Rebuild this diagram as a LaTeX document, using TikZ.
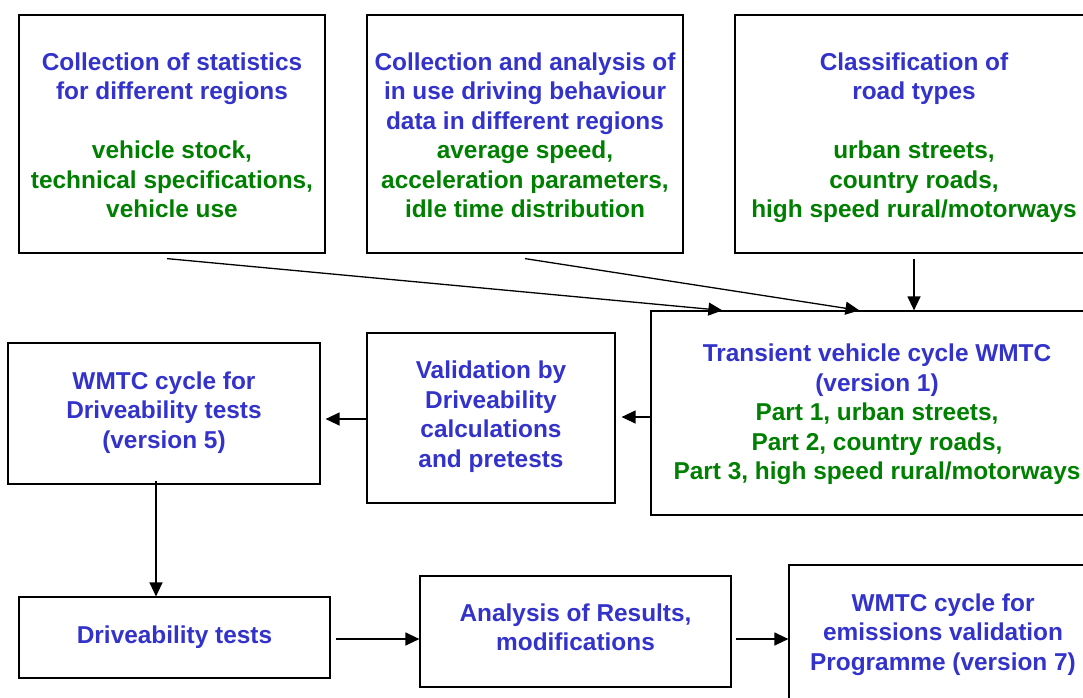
\documentclass[tikz,border=0pt]{standalone}
\usepackage{fontspec}
\setmainfont{Liberation Sans}
\usetikzlibrary{arrows.meta,calc}
\definecolor{tblue}{RGB}{51,51,204}
\definecolor{tgreen}{RGB}{0,128,0}
\newcommand{\tp}[1]{\rule{0pt}{#1pt}}
\newcommand{\bt}{\rule[-9pt]{0pt}{0pt}}
\begin{document}
\begin{tikzpicture}[x=1pt,y=-1pt,
  box/.style={draw=black,line width=1.2pt,fill=white,inner sep=0pt,align=center,
    font=\bfseries\fontsize{24.4}{29.5}\selectfont},
  arr/.style={line width=1.3pt,-{Triangle[length=14pt,width=13pt]}},
]
\fill[white] (0,0) rectangle (1083,697);
\useasboundingbox (0,0) rectangle (1083,697);

\node[box,minimum width=306pt,minimum height=238pt] (b1) at (172,134)
  {\tp{29.4}\color{tblue}Collection of statistics\\\color{tblue}for different regions\\[29.5pt]
   \color{tgreen}vehicle stock,\\\color{tgreen}technical specifications,\\\color{tgreen}vehicle use\bt};
\node[box,minimum width=316pt,minimum height=238pt] (b2) at (525,134)
  {\tp{29.4}\color{tblue}Collection and analysis of\\\color{tblue}in use driving behaviour\\\color{tblue}data in different regions\\
   \color{tgreen}average speed,\\\color{tgreen}acceleration parameters,\\\color{tgreen}idle time distribution\bt};
\node[box,minimum width=358pt,minimum height=238pt] (b3) at (914,134)
  {\tp{29.4}\color{tblue}Classification of\\\color{tblue}road types\\[29.5pt]
   \color{tgreen}urban streets,\\\color{tgreen}country roads,\\\color{tgreen}high speed rural/motorways\bt};
\node[box,minimum width=452pt,minimum height=204pt] (b4) at (877,413)
  {\tp{24.4}\color{tblue}Transient vehicle cycle WMTC\\\color{tblue}(version 1)\\
   \color{tgreen}Part 1, urban streets,\\\color{tgreen}Part 2, country roads,\\\color{tgreen}Part 3, high speed rural/motorways\bt};
\node[box,minimum width=248pt,minimum height=170pt] (b5) at (491,418)
  {\tp{19.4}\color{tblue}Validation by\\\color{tblue}Driveability\\\color{tblue}calculations\\\color{tblue}and pretests\bt};
\node[box,minimum width=312pt,minimum height=141pt] (b6) at (164,413.5)
  {\tp{19.4}\color{tblue}WMTC cycle for\\\color{tblue}Driveability tests\\\color{tblue}(version 5)\bt};
\node[box,minimum width=311pt,minimum height=81pt] (b7) at (174.5,637.5)
  {\tp{21.4}\color{tblue}Driveability tests\bt};
\node[box,minimum width=311pt,minimum height=111pt] (b8) at (575.5,631.5)
  {\tp{18.4}\color{tblue}Analysis of Results,\\\color{tblue}modifications\bt};
\node[box,minimum width=308pt,minimum height=134pt] (b9) at (943,632)
  {\tp{26.4}\color{tblue}WMTC cycle for\\\color{tblue}emissions validation\\\color{tblue}Programme (version 7)\bt};

% connectors
\draw[arr] ([xshift=-5pt,yshift=-5pt]b1.south) -- ([xshift=72pt]b4.north west);
\draw[arr] ([yshift=-5pt]b2.south) -- ([xshift=209pt]b4.north west);
\draw[arr] ([yshift=-5pt]b3.south) -- (b3.south |- b4.north);
\coordinate (a4) at ([yshift=-4pt]b4.west);
\draw[arr,shorten >=6pt] (a4) -- (a4 -| b5.east);
\coordinate (a5) at ([yshift=-1pt]b5.west);
\draw[arr,shorten >=5pt] (a5) -- (a5 -| b6.east);
\coordinate (a6) at ([xshift=-8pt,yshift=4pt]b6.south);
\draw[arr] (a6) -- (a6 |- b7.north);
\coordinate (a7) at ([yshift=-1.5pt]b7.east);
\draw[arr,shorten <=5pt] (a7) -- (a7 -| b8.west);
\coordinate (a8) at ([yshift=-7.5pt]b8.east);
\draw[arr,shorten <=4pt] (a8) -- (a8 -| b9.west);
\end{tikzpicture}
\end{document}
